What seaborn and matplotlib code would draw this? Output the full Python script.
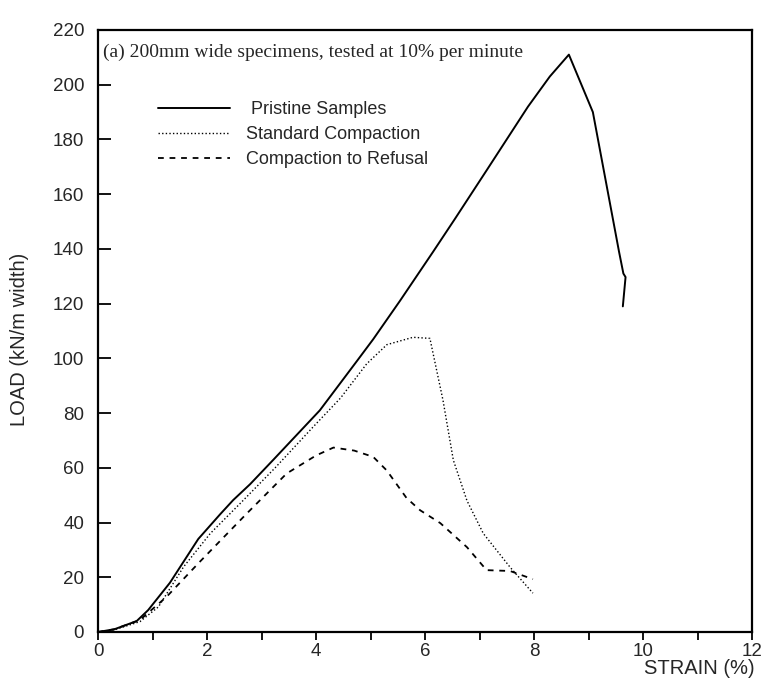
import numpy as np
import pandas as pd
import matplotlib
matplotlib.use("Agg")
import matplotlib.pyplot as plt
import seaborn as sns
from matplotlib.lines import Line2D
from matplotlib.ticker import MultipleLocator

# ---- data ----
pristine_x = [0, 0.3, 0.71, 0.92, 1.32, 1.84, 2.24, 2.48, 2.79, 3.22, 4.07, 4.75, 5.05,
              5.54, 6.15, 6.55, 7.14, 7.89, 8.29, 8.64, 9.08, 9.56, 9.64, 9.68, 9.63]
pristine_y = [0, 1, 4, 8, 18, 34, 43, 48.2, 54, 63, 81, 99, 107,
              121, 139, 151, 169, 192, 203, 211, 190, 139, 131, 129.7, 119]

standard_x = [0, 0.3, 0.77, 1.11, 1.57, 2.06, 2.61, 3.25, 3.95, 4.45, 4.93, 5.3, 5.78, 6.09,
              6.33, 6.52, 6.77, 7.07, 7.56, 7.98]
standard_y = [0, 0.8, 3.8, 9.2, 23.8, 36, 47, 60, 75, 85.5, 98, 105, 107.7, 107.3,
              84.7, 62.8, 48, 36, 23.7, 14.2]

refusal_x = [0, 0.3, 0.77, 1.26, 1.87, 2.73, 3.46, 4.0, 4.32, 4.7, 5.05, 5.3, 5.66, 5.91,
             6.28, 6.77, 7.13, 7.56, 7.98]
refusal_y = [0, 1, 4.4, 12.9, 25.7, 43.3, 57.9, 64.5, 67.4, 66.3, 64, 59, 49, 44.5,
             39.8, 31, 22.6, 22.3, 19.3]

series_names = ["Pristine Samples", "Standard Compaction", "Compaction to Refusal"]
x_ticks = [0, 2, 4, 6, 8, 10, 12]
y_ticks = [0, 20, 40, 60, 80, 100, 120, 140, 160, 180, 200, 220]
panel_note = "(a) 200mm wide specimens, tested at 10% per minute"
x_label = "STRAIN (%)"
y_label = "LOAD (kN/m width)"

sns.set_style("ticks")
plt.rcParams['font.family'] = ['Liberation Sans', 'DejaVu Sans']

fig = plt.figure(figsize=(7.64, 6.82), dpi=100)
ax = fig.add_axes([98/764, 1-632/682, (752-98)/764, (632-30)/682])

styles = ["-", (0, (1, 1.6)), (0, (3.2, 3.2))]
widths = [1.4, 1.0, 1.3]
data = [(pristine_x, pristine_y), (standard_x, standard_y), (refusal_x, refusal_y)]
handles = []
for (xs, ys), name, ls, lw in zip(data, series_names, styles, widths):
    df = pd.DataFrame({"strain": xs, "load": ys})
    sns.lineplot(data=df, x="strain", y="load", sort=False, estimator=None,
                 color="black", linestyle=ls, linewidth=lw, ax=ax)
    handles.append(Line2D([0], [0], color="black", linestyle=ls, linewidth=lw))

ax.set_xlim(0, 12)
ax.set_ylim(0, 220)
ax.set_xticks(x_ticks)
ax.set_xticklabels([str(t) for t in x_ticks], fontsize=13.5)
ax.xaxis.set_minor_locator(MultipleLocator(1))
ax.set_yticks(y_ticks)
ax.set_yticklabels([str(t) for t in y_ticks], fontsize=13.5)
ax.tick_params(axis="x", which="both", direction="out", length=6, width=1.3, color="black", pad=2)
ax.tick_params(axis="y", which="both", direction="in", length=9, width=1.3, color="black", pad=10)
ax.set_xlabel("")
ax.set_ylabel("")
for s in ax.spines.values():
    s.set_color("black")
    s.set_linewidth(1.6)
    s.set_visible(True)

fig.text(20/764, 1-339/682, y_label, rotation=90, ha="center", va="center", fontsize=14.5)
fig.text(755/764, 1-668/682, x_label, ha="right", va="center", fontsize=14.5)

ax.text(0.008, 0.977, panel_note, transform=ax.transAxes, ha="left", va="top",
        fontsize=14, family=["Liberation Serif", "DejaVu Serif"])

leg = ax.legend(handles, [" " + series_names[0], series_names[1], series_names[2]],
                loc="upper left", bbox_to_anchor=((158-98)/654, (632-101)/602),
                frameon=False, fontsize=13, handlelength=4.0, handletextpad=0.85,
                labelspacing=0.45, borderpad=0, borderaxespad=0)

fig.savefig("out.png", dpi=100)
